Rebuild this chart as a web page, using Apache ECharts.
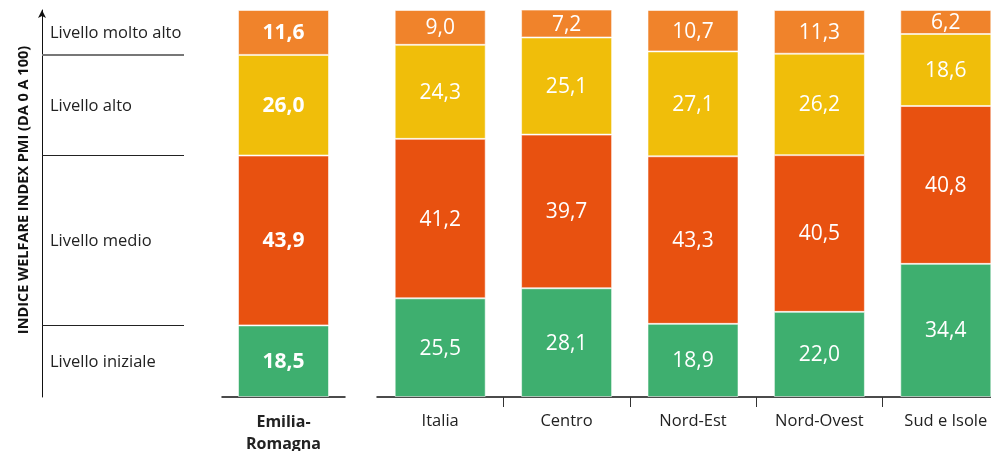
<!DOCTYPE html>
<html>
<head>
<meta charset="utf-8">
<script src="https://cdn.jsdelivr.net/npm/echarts@6/dist/echarts.min.js"></script>
<style>
  html, body { margin: 0; padding: 0; background: #fff; }
  #chart { width: 991px; height: 451px; }
</style>
</head>
<body>
<div id="chart"></div>
<script>
// Welfare index levels (percent of companies), Emilia-Romagna vs. national areas
const regionName = 'Emilia-Romagna';
const regionValues = [18.5, 43.9, 26.0, 11.6]; // iniziale, medio, alto, molto alto

const areas = ['Italia', 'Centro', 'Nord-Est', 'Nord-Ovest', 'Sud e Isole'];
const iniziale  = [25.5, 28.1, 18.9, 22.0, 34.4];
const medio     = [41.2, 39.7, 43.3, 40.5, 40.8];
const alto      = [24.3, 25.1, 27.1, 26.2, 18.6];
const moltoAlto = [9.0, 7.2, 10.7, 11.3, 6.2];

const levelNames = ['Livello iniziale', 'Livello medio', 'Livello alto', 'Livello molto alto'];
const levelColors = ['#3EAF6F', '#E85110', '#F0BE0A', '#F0832B'];
const axisTitle = 'INDICE WELFARE INDEX PMI (DA 0 A 100)';

const FONT = "'Open Sans', sans-serif";
const fmt = v => v.toFixed(1).replace('.', ',');

// cumulative boundaries of the regional bar, used for the level scale on the left
const bounds = [];
let acc = 0;
regionValues.forEach(v => { acc += v; bounds.push(Math.round(acc * 10) / 10); });

function barSeries(data, idx, axisIdx, bold) {
  return {
    type: 'bar',
    stack: 's' + axisIdx,
    xAxisIndex: axisIdx,
    yAxisIndex: axisIdx,
    barWidth: 91,
    data: data,
    itemStyle: { color: levelColors[idx], borderColor: 'rgba(255,255,255,0.55)', borderWidth: 1 },
    label: {
      show: true,
      position: 'inside',
      offset: [0, 1],
      color: '#fff',
      fontFamily: FONT,
      fontSize: 21,
      fontWeight: bold ? 'bold' : 'normal',
      formatter: p => fmt(p.value)
    }
  };
}

const chart = echarts.init(document.getElementById('chart'));

const series = [];
regionValues.forEach((v, i) => series.push(barSeries([v], i, 0, true)));
[iniziale, medio, alto, moltoAlto].forEach((arr, i) => series.push(barSeries(arr, i, 1, false)));

// level scale on the left
const lower = [0].concat(bounds.slice(0, 3));
series.push({
  type: 'line',
  xAxisIndex: 2,
  yAxisIndex: 2,
  data: [],
  silent: true,
  markLine: {
    symbol: 'none',
    silent: true,
    label: { show: false },
    data: bounds.slice(0, 3).map((b, i) => ({
      yAxis: b,
      lineStyle: i === 2
        ? { color: '#777', width: 2, type: 'solid' }
        : { color: '#222', width: 1, type: 'solid' }
    }))
  },
  markArea: {
    silent: true,
    itemStyle: { color: 'rgba(0,0,0,0)' },
    label: {
      position: 'insideLeft',
      distance: 8,
      offset: [0, 1],
      color: '#222',
      fontFamily: FONT,
      fontSize: 16.5
    },
    data: levelNames.map((n, i) => [
      { name: n, yAxis: lower[i] },
      { yAxis: bounds[i] }
    ])
  }
});

chart.setOption({
  animation: false,
  backgroundColor: '#fff',
  grid: [
    { left: 222, width: 123, top: 10, bottom: 54, outerBoundsMode: 'none' },
    { left: 377, width: 632, top: 10, bottom: 54, outerBoundsMode: 'none' },
    { left: 42, width: 142, top: 10, bottom: 54, outerBoundsMode: 'none' }
  ],
  xAxis: [
    {
      type: 'category', gridIndex: 0, data: [regionName],
      axisLine: { lineStyle: { color: '#111', width: 1.5 } },
      axisTick: { show: false },
      axisLabel: {
        margin: 14, color: '#222', fontFamily: FONT, fontSize: 16, fontWeight: 'bold',
        lineHeight: 22, formatter: v => v.replace('-', '-\n')
      }
    },
    {
      type: 'category', gridIndex: 1, data: areas,
      axisLine: { lineStyle: { color: '#111', width: 1.5 } },
      axisTick: { show: true, length: 10, interval: i => i > 0, lineStyle: { color: '#333' } },
      axisLabel: { margin: 16, color: '#222', fontFamily: FONT, fontSize: 16.5 }
    },
    { type: 'category', gridIndex: 2, data: [''], show: false }
  ],
  yAxis: [
    { type: 'value', gridIndex: 0, min: 0, max: 100, show: false },
    { type: 'value', gridIndex: 1, min: 0, max: 100, show: false },
    {
      type: 'value', gridIndex: 2, min: 0, max: 100,
      axisLine: { show: true, symbol: ['none', 'arrow'], symbolSize: [6, 8], lineStyle: { color: '#111', width: 1 } },
      axisTick: { show: false },
      axisLabel: { show: false },
      splitLine: { show: false }
    }
  ],
  graphic: [{
    type: 'text',
    x: 24, y: 190,
    rotation: Math.PI / 2,
    style: {
      text: axisTitle,
      fill: '#111',
      font: "bold 14.5px 'Open Sans', sans-serif",
      textAlign: 'center',
      textVerticalAlign: 'middle'
    }
  }],
  series: series
});
</script>
</body>
</html>
